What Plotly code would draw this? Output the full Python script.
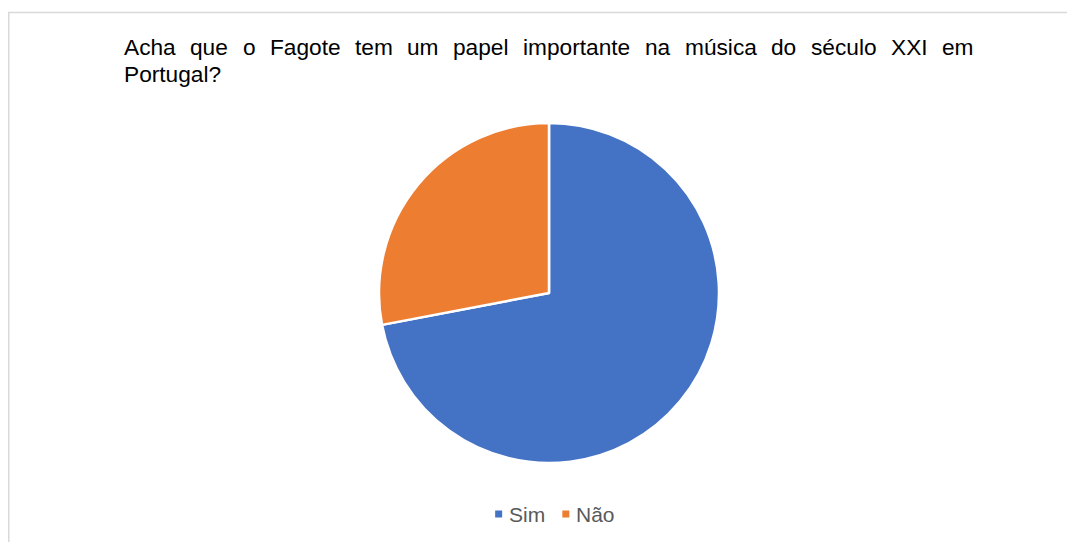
import plotly.graph_objects as go

# ---- data ----
labels = ["Sim", "Não"]
values = [72, 28]
colors = ["#4472C4", "#ED7D31"]
title_line1 = "Acha que o Fagote tem um papel importante na música do século XXI em"
title_line2 = "Portugal?"

# the page body adds an 8px margin, so the figure is a bit smaller and
# reference pixel positions are shifted by that offset
OFF = 8
W, H = 1075 - OFF, 542 - OFF
FONT = "Liberation Sans, Arial, sans-serif"

# Arial / Liberation Sans advance widths (per 1000 em)
ADV = {"A": 667, "c": 500, "h": 556, "a": 556, "q": 556, "u": 556, "e": 556, "o": 556,
       "F": 611, "g": 556, "t": 278, "m": 833, "p": 556, "l": 222, "i": 222, "r": 333,
       "n": 556, "s": 500, "d": 556, "X": 667, "I": 278, "P": 667, "?": 556, "S": 667,
       "N": 722, "ú": 556, "é": 556, "ã": 556, " ": 278}


def tw(s, size):
    return sum(ADV.get(ch, 556) for ch in s) / 1000.0 * size


def px(x):
    return (x - OFF) / W


def py(y):
    return 1 - (y - OFF) / H


annotations = []
shapes = []

# ---- title (justified first line) ----
TSIZE = 22.7
left, right = 123, 973
words = title_line1.split()
total = sum(tw(w, TSIZE) for w in words)
gap = (right - left - total) / (len(words) - 1)
x = left
for w in words:
    annotations.append(dict(text=w, x=px(x - 1), y=py(47), xref="paper", yref="paper",
                            xanchor="left", yanchor="middle", showarrow=False,
                            font=dict(family=FONT, size=TSIZE, color="#000000")))
    x += tw(w, TSIZE) + gap
annotations.append(dict(text=title_line2, x=px(left - 1), y=py(74), xref="paper", yref="paper",
                        xanchor="left", yanchor="middle", showarrow=False,
                        font=dict(family=FONT, size=TSIZE, color="#000000")))

# ---- legend ----
LSIZE = 21
sq, sgap, igap = 7, 6, 18
item_w = [sq + sgap + tw(l, LSIZE) for l in labels]
leg_total = sum(item_w) + igap * (len(labels) - 1)
lx = 554.5 - leg_total / 2
ly = 514
for lab, col, iw in zip(labels, colors, item_w):
    shapes.append(dict(type="rect", xref="paper", yref="paper",
                       x0=px(lx), x1=px(lx + sq), y0=py(ly + sq / 2), y1=py(ly - sq / 2),
                       fillcolor=col, line=dict(width=0)))
    annotations.append(dict(text=lab, x=px(lx + sq + sgap - 1), y=py(ly), xref="paper", yref="paper",
                            xanchor="left", yanchor="middle", showarrow=False,
                            font=dict(family=FONT, size=LSIZE, color="#595959")))
    lx += iw + igap

# ---- chart border (top and left visible) ----
shapes.append(dict(type="line", xref="paper", yref="paper", x0=px(8), x1=1.0, y0=py(12.5), y1=py(12.5),
                   line=dict(color="#D9D9D9", width=1.5)))
shapes.append(dict(type="line", xref="paper", yref="paper", x0=px(8.75), x1=px(8.75), y0=py(12), y1=0,
                   line=dict(color="#D9D9D9", width=1.5)))

cx, cy, r = 549, 293, 170
fig = go.Figure(go.Pie(
    labels=labels, values=values, sort=False, direction="clockwise", rotation=0,
    marker=dict(colors=colors, line=dict(color="#FFFFFF", width=2.5)),
    textinfo="none", hoverinfo="label+percent", showlegend=False,
    domain=dict(x=[px(cx - r), px(cx + r)], y=[py(cy + r), py(cy - r)]),
))

fig.update_layout(
    width=W, height=H, margin=dict(l=0, r=0, t=0, b=0),
    paper_bgcolor="#FFFFFF", plot_bgcolor="#FFFFFF",
    showlegend=False, annotations=annotations, shapes=shapes,
)

fig.write_html("out.html")
